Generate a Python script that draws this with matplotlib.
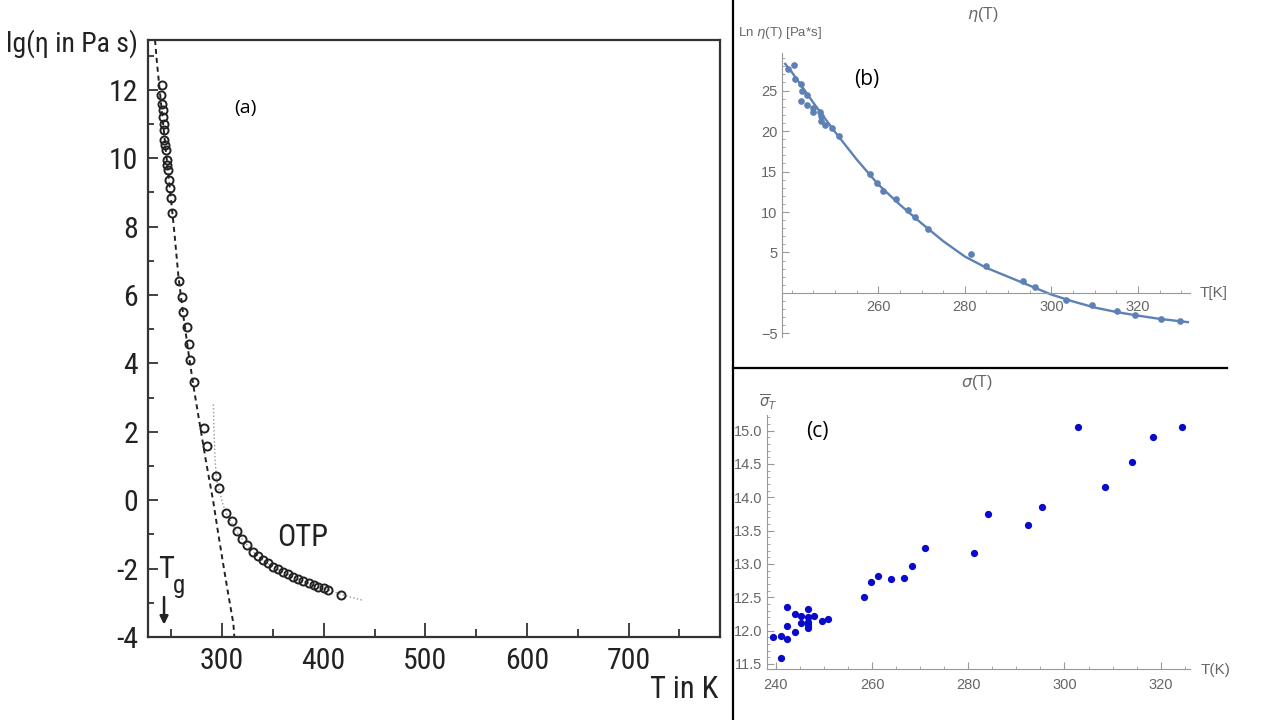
import matplotlib.pyplot as plt
import matplotlib.ticker as mt
from matplotlib.lines import Line2D

plt.rcParams['axes.unicode_minus'] = False

# ---- panel (a): lg(eta) vs T for OTP ----
T_otp = [240.5, 239.8, 241.0, 241.5, 242.0, 242.4, 242.8, 243.0, 243.8, 244.7, 245.4, 246.0,
         246.4, 247.7, 248.7, 249.4, 251.0, 257.8, 260.2, 261.8, 265.1, 267.7, 267.9, 272.6,
         282.0, 284.8, 293.7, 297.0, 303.5, 309.5, 314.4, 319.3, 324.2, 330.0, 335.6, 340.6,
         345.5, 350.4, 355.4, 360.3, 365.2, 370.2, 375.0, 380.0, 385.0, 390.0, 394.8, 399.8,
         404.0, 416.9]
lg_otp = [12.15, 11.85, 11.6, 11.4, 11.2, 11.0, 10.83, 10.54, 10.4, 10.25, 9.96, 9.8,
          9.67, 9.38, 9.14, 8.85, 8.41, 6.4, 5.94, 5.5, 5.06, 4.57, 4.1, 3.47,
          2.1, 1.6, 0.7, 0.37, -0.36, -0.6, -0.89, -1.12, -1.32, -1.5, -1.63, -1.75,
          -1.85, -1.95, -2.02, -2.09, -2.17, -2.24, -2.31, -2.36, -2.43, -2.48, -2.53, -2.58,
          -2.63, -2.77]

T_dash = [233.9, 235.6, 240.0, 245.0, 250.0, 253.6, 256.9, 262.0, 267.7, 272.5, 278.2,
          284.0, 291.3, 296.0, 301.2, 306.0, 311.0, 312.0]
lg_dash = [13.46, 12.87, 11.55, 10.1, 8.7, 7.63, 6.56, 5.35, 4.13, 3.2, 2.18,
           1.15, -0.05, -0.95, -1.9, -2.75, -3.6, -4.0]

T_dot = [291.3, 292.0, 293.0, 294.5, 297.5, 301.0, 305.0, 310.0, 315.0, 320.0, 330.0, 340.0,
         350.0, 360.0, 370.0, 380.0, 390.0, 400.0, 410.0, 420.0, 430.0, 439.0]
lg_dot = [2.8, 2.0, 1.2, 0.6, 0.25, -0.15, -0.45, -0.7, -0.95, -1.15, -1.5, -1.75,
          -1.95, -2.1, -2.25, -2.37, -2.48, -2.58, -2.68, -2.78, -2.86, -2.93]

# ---- panel (b): Ln eta(T) ----
T_b = [239.2, 240.6, 240.8, 242.2, 242.3, 242.2, 243.5, 243.5, 245.0, 245.0, 246.5, 246.8,
       246.8, 247.7, 249.4, 250.9, 258.1, 259.8, 261.0, 264.2, 266.9, 268.6, 271.4, 281.5,
       284.8, 293.4, 296.1, 303.3, 309.3, 315.2, 319.4, 325.4, 329.8]
ln_b = [27.67, 28.17, 26.4, 25.8, 24.98, 23.74, 24.4, 23.2, 22.9, 22.4, 22.3, 21.9,
        21.3, 20.7, 20.36, 19.4, 14.75, 13.54, 12.6, 11.65, 10.3, 9.37, 7.84, 4.87,
        3.3, 1.44, 0.74, -0.91, -1.53, -2.28, -2.69, -3.22, -3.43]

T_fit = [238.5, 240, 245, 250, 255, 260, 265, 270, 275, 280, 285, 290, 295, 300, 305,
         310, 315, 320, 325, 331.5]
ln_fit = [28.3, 27.3, 23.5, 19.9, 16.5, 13.4, 10.9, 8.6, 6.4, 4.5, 3.1, 2.0, 0.9, -0.2, -1.05,
          -1.8, -2.35, -2.8, -3.2, -3.6]

# ---- panel (c): sigma(T) ----
T_c = [239.5, 241.0, 241.0, 242.4, 242.4, 242.4, 243.9, 243.9, 245.3, 245.3, 246.7, 246.7,
       246.7, 246.7, 246.7, 248.0, 249.6, 250.9, 258.3, 259.7, 261.2, 263.9, 266.7, 268.3,
       271.0, 281.2, 284.1, 292.5, 295.4, 302.8, 308.5, 314.0, 318.4, 324.4]
sig_c = [11.91, 11.925, 11.59, 11.87, 12.07, 12.35, 12.25, 11.985, 12.225, 12.11, 12.33, 12.21,
         12.135, 12.085, 12.045, 12.225, 12.145, 12.17, 12.505, 12.73, 12.825, 12.77, 12.79, 12.97,
         13.245, 13.17, 13.75, 13.585, 13.85, 15.05, 14.15, 14.53, 14.91, 15.05]

W, H = 1280, 720


def box(l, t, r, b):
    return [l / W, 1 - b / H, (r - l) / W, (b - t) / H]


fig = plt.figure(figsize=(12.8, 7.2), dpi=100)
narrow = ['Roboto Condensed', 'Liberation Sans Narrow', 'Liberation Sans', 'DejaVu Sans']
ink = '#222222'
gray = '#666666'
axgray = '#999999'

# ---------------- (a) ----------------
ax_a = fig.add_axes(box(148, 40, 720, 637))
ax_a.plot(T_dash, lg_dash, color=ink, lw=1.4, dashes=(2.6, 2.0))
ax_a.plot(T_dot, lg_dot, ':', color='#999999', lw=1.0)
ax_a.plot(T_otp, lg_otp, 'o', mfc='none', mec=ink, ms=5.8, mew=1.4)
ax_a.set_xlim(227, 790)
ax_a.set_ylim(-4, 13.46)
ax_a.xaxis.set_major_locator(mt.MultipleLocator(100))
ax_a.xaxis.set_minor_locator(mt.MultipleLocator(50))
ax_a.yaxis.set_major_locator(mt.MultipleLocator(2))
ax_a.yaxis.set_minor_locator(mt.MultipleLocator(1))
ax_a.tick_params(which='both', direction='in', color='#333333', width=1.3, pad=7)
ax_a.tick_params(axis='x', which='major', length=10)
ax_a.tick_params(axis='x', which='minor', length=6)
ax_a.tick_params(axis='y', which='major', length=7)
ax_a.tick_params(axis='y', which='minor', length=4)
for s in ax_a.spines.values():
    s.set_linewidth(1.6)
    s.set_color('#333333')
for lab in ax_a.get_xticklabels() + ax_a.get_yticklabels():
    lab.set_fontfamily(narrow)
    lab.set_fontsize(21.5)
    lab.set_color(ink)
ax_a.text(354.5, -1.35, 'OTP', family=narrow, fontsize=22, va='baseline', color=ink)
ax_a.text(236.8, -2.26, 'T', family=narrow, fontsize=22, va='baseline', color=ink)
ax_a.text(251.5, -2.7, 'g', family=narrow, fontsize=18, va='baseline', color=ink)
ax_a.annotate('', xy=(242.8, -3.72), xytext=(242.8, -2.75),
              arrowprops=dict(arrowstyle='-|>', color=ink, lw=1.8, mutation_scale=12))
fig.text(245 / W, 1 - 108 / H, '(a)', family='Open Sans', fontsize=14, ha='center', va='center')
fig.text(6 / W, 1 - 52 / H, 'lg(\u03b7 in Pa s)', family=narrow, fontsize=20,
         ha='left', va='baseline', color=ink)
fig.text(718 / W, 1 - 698 / H, 'T in K', family=narrow, fontsize=22,
         ha='right', va='baseline', color=ink)

# ---------------- (b) ----------------
ax_b = fig.add_axes(box(781.7, 53.3, 1190, 336.7))
ax_b.plot(T_fit, ln_fit, color='#5E81B5', lw=1.7)
ax_b.plot(T_b, ln_b, 'o', color='#5E81B5', ms=3.8)
ax_b.set_xlim(237.7, 332)
ax_b.set_ylim(-5.4, 29.6)
ax_b.spines['top'].set_visible(False)
ax_b.spines['right'].set_visible(False)
ax_b.spines['bottom'].set_position(('data', 0))
for s in ax_b.spines.values():
    s.set_color(axgray)
ax_b.xaxis.set_major_locator(mt.FixedLocator([260, 280, 300, 320]))
ax_b.xaxis.set_minor_locator(mt.MultipleLocator(5))
ax_b.yaxis.set_major_locator(mt.FixedLocator([-5, 5, 10, 15, 20, 25]))
ax_b.yaxis.set_minor_locator(mt.MultipleLocator(1))
ax_b.yaxis.set_major_formatter(mt.FuncFormatter(lambda v, p: ('%d' % v).replace('-', '\u2212')))
ax_b.tick_params(which='both', direction='in', color=axgray, labelcolor=gray,
                 labelsize=10.5, pad=3)
ax_b.tick_params(axis='x', which='both', pad=5)
ax_b.tick_params(which='major', length=5)
ax_b.tick_params(which='minor', length=2.5)
for lab in ax_b.get_xticklabels() + ax_b.get_yticklabels():
    lab.set_fontfamily('Liberation Sans')
fig.text(983 / W, 1 - 14 / H, r'$\eta$(T)', family='Liberation Sans', fontsize=11.5,
         ha='center', va='center', color=gray)
fig.text(738 / W, 1 - 33 / H, r'Ln $\eta$(T) [Pa*s]', family='Liberation Sans', fontsize=9.5,
         ha='left', va='center', color=gray)
fig.text(1200 / W, 1 - 293 / H, 'T[K]', family='Liberation Sans', fontsize=11,
         ha='left', va='center', color=gray)
fig.text(867 / W, 1 - 79 / H, '(b)', family='Open Sans', fontsize=15, ha='center', va='center')

# ---------------- (c) ----------------
ax_c = fig.add_axes(box(766.7, 415, 1190, 669.3))
ax_c.plot(T_c, sig_c, 'o', color='#0A0ACC', ms=4.2)
ax_c.set_xlim(238.1, 326.1)
ax_c.set_ylim(11.42, 15.235)
ax_c.spines['top'].set_visible(False)
ax_c.spines['right'].set_visible(False)
for s in ax_c.spines.values():
    s.set_color(axgray)
ax_c.xaxis.set_major_locator(mt.FixedLocator([240, 260, 280, 300, 320]))
ax_c.xaxis.set_minor_locator(mt.MultipleLocator(5))
ax_c.yaxis.set_major_locator(mt.MultipleLocator(0.5))
ax_c.yaxis.set_minor_locator(mt.MultipleLocator(0.1))
ax_c.yaxis.set_major_formatter(mt.FormatStrFormatter('%.1f'))
ax_c.tick_params(which='both', direction='in', color=axgray, labelcolor=gray,
                 labelsize=10.5, pad=3)
ax_c.tick_params(axis='x', which='both', pad=6)
ax_c.tick_params(which='major', length=5)
ax_c.tick_params(which='minor', length=2.5)
for lab in ax_c.get_xticklabels() + ax_c.get_yticklabels():
    lab.set_fontfamily('Liberation Sans')
fig.text(977 / W, 1 - 382 / H, r'$\sigma$(T)', family='Liberation Sans', fontsize=11.5,
         ha='center', va='center', color=gray)
fig.text(768 / W, 1 - 402 / H, r'$\overline{\sigma}_{T}$', fontsize=10.5,
         ha='center', va='center', color=gray)
fig.text(1201 / W, 1 - 670 / H, 'T(K)', family='Liberation Sans', fontsize=11,
         ha='left', va='center', color=gray)
fig.text(817 / W, 1 - 432 / H, '(c)', family='Open Sans', fontsize=15, ha='center', va='center')

# separator lines
fig.add_artist(Line2D([733 / W, 733 / W], [0, 1], transform=fig.transFigure, color='black', lw=1.6))
fig.add_artist(Line2D([733 / W, 1227 / W], [1 - 368 / H, 1 - 368 / H], transform=fig.transFigure,
                      color='black', lw=1.6))

fig.savefig('out.png', dpi=100)
